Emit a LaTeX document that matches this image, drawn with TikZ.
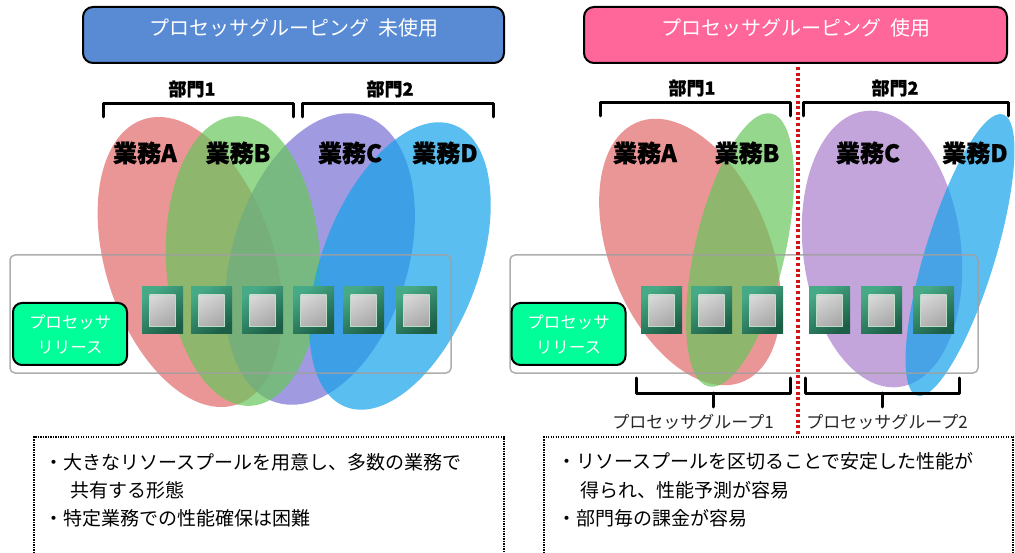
\documentclass[tikz,border=0pt]{standalone}
\usepackage{fontspec}
\setmainfont{Noto Sans CJK JP}[BoldFeatures={FakeBold=0.8}]
\usetikzlibrary{shapes.geometric}

\definecolor{titleblue}{HTML}{588BD4}
\definecolor{titlepink}{HTML}{FF6699}
\definecolor{releasegreen}{HTML}{00FF99}
\definecolor{ellred}{HTML}{E26969}
\definecolor{ellgreen}{HTML}{68C65B}
\definecolor{ellpurple}{HTML}{7770D4}
\definecolor{ellviolet}{HTML}{AA7FCD}
\definecolor{ellblue}{HTML}{14A2EA}
\definecolor{chiplight}{HTML}{46AA86}
\definecolor{chipdark}{HTML}{1C5E46}
\definecolor{dieedge}{HTML}{BFDCC8}
\definecolor{divred}{HTML}{D01515}
\definecolor{pooledge}{HTML}{A0A0A0}

\tikzset{
  titlebox/.style={draw=black, line width=2pt, rounded corners=10pt,
    minimum width=421pt, minimum height=56pt, inner sep=0pt},
  titletext/.style={text=white, font=\fontsize{20}{24}\selectfont, inner sep=0pt},
  bracket/.style={line width=3pt, line cap=round, line join=round, black},
  deptlabel/.style={font=\fontsize{18}{20}\selectfont\bfseries, inner sep=0pt},
  tasklabel/.style={font=\fontsize{24}{26}\selectfont\bfseries, inner sep=0pt},
  job/.style={ellipse, inner sep=0pt, fill opacity=0.7, draw=none},
  pool/.style={draw=pooledge, draw opacity=0.85, line width=1.5pt, rounded corners=5pt,
    minimum height=118pt, inner sep=0pt},
  release/.style={draw=black, line width=2pt, fill=releasegreen, rounded corners=9pt,
    minimum width=114pt, minimum height=62pt, inner sep=0pt, text=white,
    align=center, font=\fontsize{16.5}{25}\selectfont},
  chip/.style={minimum width=41pt, minimum height=47pt, inner sep=0pt,
    top color=chiplight, bottom color=chipdark, shading angle=35,
    path picture={
      \shade[top color=gray!25, bottom color=gray!75, shading angle=30,
             draw=dieedge, line width=0.8pt]
        ([xshift=7.5pt,yshift=8pt]path picture bounding box.south west)
        rectangle
        ([xshift=-7.5pt,yshift=-8pt]path picture bounding box.north east);
    }},
  grouplabel/.style={font=\fontsize{17}{20}\selectfont, text=black!85, inner sep=0pt},
  notebox/.style={line width=1.2pt, dash pattern=on 1.2pt off 1.3pt, black},
  note/.style={anchor=west, inner sep=0pt, font=\fontsize{19}{23}\selectfont},
  divider/.style={divred, line width=3.2pt, dash pattern=on 3pt off 2.6pt}
}

\begin{document}
\begin{tikzpicture}[x=1pt, y=-1pt]
\useasboundingbox (0,0) rectangle (1015,553);

% ---------------- without processor grouping ----------------
\node[titlebox, fill=titleblue] (Ltitle) at (293.5,35) {};
\node[titletext] (Ltitletext) at (293.5,28) {プロセッサグルーピング\hspace{9pt}未使用};

\node[deptlabel] (Ldept1) at (192,89) {部門1};
\node[deptlabel] (Ldept2) at (390,89) {部門2};
\draw[bracket] (103,117) -- (103,104) -- (293,104) -- (293,117);
\draw[bracket] (302,117) -- (302,104) -- (493,104) -- (493,117);

\node[job, fill=ellred,    minimum width=168pt, minimum height=300pt, rotate=18]  (LA) at (190,262) {};
\node[job, fill=ellpurple, minimum width=176pt, minimum height=300pt, rotate=-17] (LC) at (320,259) {};
\node[job, fill=ellgreen,  minimum width=154pt, minimum height=290pt, rotate=3]   (LB) at (243,261) {};
\node[job, fill=ellblue,   minimum width=156pt, minimum height=302pt, rotate=-21] (LD) at (400,266) {};

\node[tasklabel] (LAt) at (145,153) {業務A};
\node[tasklabel] (LBt) at (238,153) {業務B};
\node[tasklabel] (LCt) at (350,153) {業務C};
\node[tasklabel] (LDt) at (445,153) {業務D};

\node[pool, minimum width=441pt] (Lpool) at (230.5,314) {};
\node[release] (Lrelease) at (70,334) {プロセッサ\\リリース};

\node[chip] (Lc1) at (162.5,310.5) {};
\node[chip] (Lc2) at (211.5,310.5) {};
\node[chip] (Lc3) at (262.5,310.5) {};
\node[chip] (Lc4) at (313.5,310.5) {};
\node[chip] (Lc5) at (363.5,310.5) {};
\node[chip] (Lc6) at (416.5,310.5) {};

\draw[notebox] (34,553) -- (34,437) -- (504,437) -- (504,553);
\node[note] (Ln1) at (44,462) {・大きなリソースプールを用意し、多数の業務で};
\node[note] (Ln2) at (70,490) {共有する形態};
\node[note] (Ln3) at (44,518) {・特定業務での性能確保は困難};

% ---------------- with processor grouping ----------------
\node[titlebox, fill=titlepink, minimum width=423pt] (Rtitle) at (795.5,35) {};
\node[titletext] (Rtitletext) at (795.5,28) {プロセッサグルーピング\hspace{9pt}使用};

\node[deptlabel] (Rdept1) at (692,88) {部門1};
\node[deptlabel] (Rdept2) at (895,88) {部門2};
\draw[bracket] (600,116) -- (600,103) -- (790,103) -- (790,116);
\draw[bracket] (803,116) -- (803,103) -- (1008,103) -- (1008,116);

\node[job, fill=ellred,    minimum width=160pt, minimum height=280pt, rotate=22]  (RA) at (690,252) {};
\node[job, fill=ellgreen,  minimum width=90pt,  minimum height=280pt, rotate=-13] (RB) at (740,250) {};
\node[job, fill=ellviolet, minimum width=158pt, minimum height=278pt, rotate=7]   (RC) at (882,249) {};
\node[job, fill=ellblue,   minimum width=70pt,  minimum height=294pt, rotate=-17] (RD) at (960,255) {};

\node[tasklabel] (RAt) at (645,153) {業務A};
\node[tasklabel] (RBt) at (747,153) {業務B};
\node[tasklabel] (RCt) at (868,153) {業務C};
\node[tasklabel] (RDt) at (975,153) {業務D};

\node[pool, minimum width=468pt] (Rpool) at (744,314) {};
\node[release] (Rrelease) at (568.5,334) {プロセッサ\\リリース};

\node[chip] (Rc1) at (661.5,310.5) {};
\node[chip] (Rc2) at (711.5,310.5) {};
\node[chip] (Rc3) at (762.5,310.5) {};
\node[chip] (Rc4) at (829.5,310.5) {};
\node[chip] (Rc5) at (881.5,310.5) {};
\node[chip] (Rc6) at (933.5,310.5) {};

\draw[bracket] (636,378) -- (636,393) -- (790,393) -- (790,378);
\draw[bracket] (713,393) -- (713,407);
\draw[bracket] (805,378) -- (805,393) -- (959,393) -- (959,378);
\draw[bracket] (882,393) -- (882,407);
\node[grouplabel] (Rg1) at (693,422) {プロセッサグループ1};
\node[grouplabel] (Rg2) at (887,422) {プロセッサグループ2};

\coordinate (divtop) at (798,67);
\coordinate (divbot) at (798,436);
\draw[divider] (divtop) -- (divbot);

\draw[notebox] (544,553) -- (544,437) -- (1013,437) -- (1013,553);
\node[note] (Rn1) at (557,461) {・リソースプールを区切ることで安定した性能が};
\node[note] (Rn2) at (580,490) {得られ、性能予測が容易};
\node[note] (Rn3) at (557,518) {・部門毎の課金が容易};

\end{tikzpicture}
\end{document}
